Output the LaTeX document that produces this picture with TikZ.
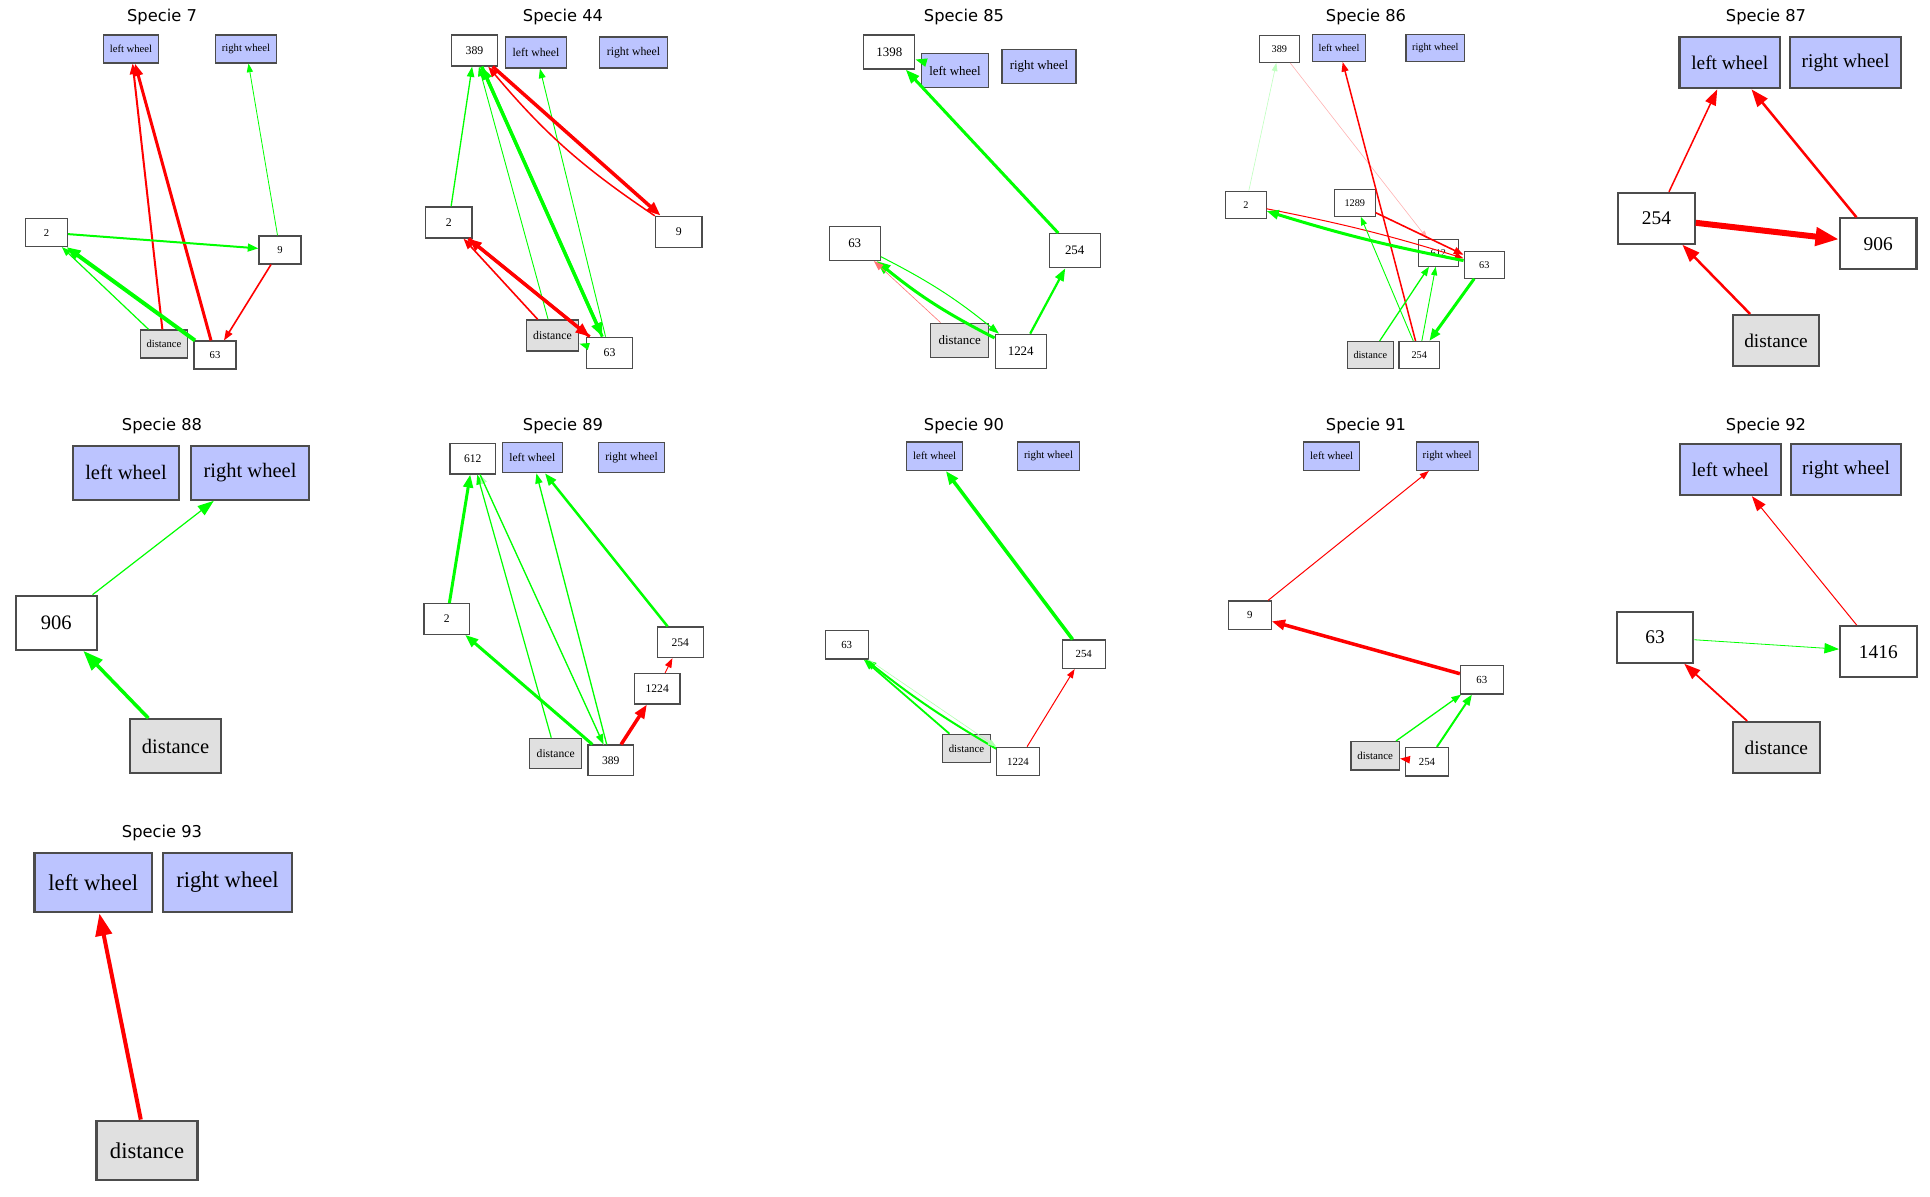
\documentclass[tikz,border=0pt]{standalone}
\usepackage{fontspec}
\setmainfont{Liberation Serif}
\newfontfamily\titlefont{DejaVu Sans}
\usetikzlibrary{arrows.meta}
\definecolor{wheel}{RGB}{188,196,255}
\definecolor{distc}{RGB}{224,224,224}
\definecolor{grn}{RGB}{0,255,0}
\definecolor{rd}{RGB}{255,0,0}
\tikzset{
  panel/.style={/utils/exec={\pgfmathsetlengthmacro\boxh{#1*0.5pt}%
      \pgfmathsetlengthmacro\bw{#1*0.02pt}\pgfmathsetmacro\fsz{#1*0.19}},
    >={Triangle[length=#1*0.13pt 1.7,width=#1*0.09pt 1.4]}},
  box/.style={draw=black!70,line width=\bw,inner sep=0pt,minimum height=\boxh,
    font=\fontsize{\fsz}{\fsz}\selectfont},
  num/.style={box,fill=white,minimum width=1.5*\boxh},
  lwheel/.style={box,fill=wheel,minimum width=1.97*\boxh},
  rwheel/.style={box,fill=wheel,minimum width=2.17*\boxh},
  dist/.style={box,fill=distc,minimum width=1.7*\boxh},
  title/.style={font=\titlefont\fontsize{8.15}{9}\selectfont},
  pw/.style={line width=#1*0.5pt}
}
\begin{document}
\begin{tikzpicture}[x=0.5pt,y=-0.5pt]
\useasboundingbox (0,0) rectangle (1930,1197);

\begin{scope}[panel=28]
\node[title] (t7) at (162,17) {Specie 7};
\node[lwheel] (s7L) at (131,49) {left wheel};
\node[rwheel] (s7R) at (246,49) {right wheel};
\node[num] (s7n2) at (46.5,232.5) {2};
\node[num] (s7n9) at (280,250) {9};
\node[dist] (s7D) at (164,344) {distance};
\node[num] (s7n63) at (215,355) {63};
\path[->] (s7D) edge[rd,pw=2] (s7L)
              edge[grn,pw=1.2] (s7n2)
          (s7n63) edge[rd,pw=3] (s7L)
              edge[grn,pw=4] (s7n2)
          (s7n9) edge[grn,pw=0.8] (s7R)
              edge[rd,pw=1.6] (s7n63)
          (s7n2) edge[grn,pw=2] (s7n9);
\end{scope}

\begin{scope}[panel=31]
\node[title] (t44) at (563,17) {Specie 44};
\node[num] (s44n389) at (474.5,50.5) {389};
\node[lwheel] (s44L) at (536,52.5) {left wheel};
\node[rwheel] (s44R) at (633.5,52.5) {right wheel};
\node[num] (s44n2) at (448.7,222.5) {2};
\node[num] (s44n9) at (678.7,231.7) {9};
\node[dist] (s44D) at (552.5,335.5) {distance};
\node[num] (s44n63) at (609.5,352.8) {63};
\path[->] (s44n2) edge[grn,pw=1.3] (s44n389)
              edge[rd,pw=3.5] (s44n63)
          (s44D) edge[grn,pw=0.9] (s44n389)
              edge[rd,pw=1.6] (s44n2)
          (s44n63) edge[grn,pw=3] (s44n389)
              edge[grn,pw=0.9] (s44L)
              edge[rd,pw=3] (s44n2)
              edge[grn,pw=1] (s44D)
          (s44n389) edge[grn,pw=3.5] (s44n63)
              edge[rd,pw=3.5] (s44n9)
          (s44n9) edge[rd,pw=1.5,bend left=8] (s44n389);
\end{scope}

\begin{scope}[panel=34]
\node[title] (t85) at (964,17) {Specie 85};
\node[num] (s85n1398) at (889.3,52) {1398};
\node[lwheel] (s85L) at (955,70.8) {left wheel};
\node[rwheel] (s85R) at (1039,66.7) {right wheel};
\node[num] (s85n63) at (854.7,243.3) {63};
\node[num] (s85n254) at (1074.7,250.7) {254};
\node[dist] (s85D) at (959.7,340.3) {distance};
\node[num] (s85n1224) at (1020.7,351.3) {1224};
\path[->] (s85L) edge[grn,pw=1.5] (s85n1398)
          (s85n254) edge[grn,pw=3] (s85n1398)
          (s85n1224) edge[grn,pw=2.2] (s85n254)
              edge[grn,pw=3,bend left=6] (s85n63)
          (s85n63) edge[grn,pw=1,bend left=6] (s85n1224)
          (s85D) edge[rd!55,pw=0.6] (s85n63);
\end{scope}

\begin{scope}[panel=27]
\node[title] (t86) at (1366,17) {Specie 86};
\node[num] (s86n389) at (1279.3,49) {389};
\node[lwheel] (s86L) at (1339,48) {left wheel};
\node[rwheel] (s86R) at (1435.3,48) {right wheel};
\node[num] (s86n2) at (1245.8,204.7) {2};
\node[num] (s86n1289) at (1354.8,202.7) {1289};
\node[num] (s86n612) at (1438.3,252.7) {612};
\node[num] (s86n63) at (1484.3,264.7) {63};
\node[dist] (s86D) at (1370.3,355) {distance};
\node[num] (s86n254) at (1419.2,355) {254};
\path[->] (s86n2) edge[grn!25,pw=0.6] (s86n389)
              edge[rd,pw=1,bend left=3] (s86n63)
          (s86n389) edge[rd!30,pw=0.6] (s86n612)
          (s86n254) edge[rd,pw=1.5] (s86L)
              edge[grn,pw=0.9] (s86n1289)
              edge[grn,pw=0.9] (s86n612)
          (s86n1289) edge[rd,pw=1.6] (s86n63)
          (s86n63) edge[grn,pw=3,bend left=3] (s86n2)
              edge[grn,pw=3] (s86n254)
          (s86D) edge[grn,pw=1.3] (s86n612);
\end{scope}

\begin{scope}[panel=51]
\node[title] (t87) at (1766,17) {Specie 87};
\node[lwheel] (s87L) at (1729.7,62.8) {left wheel};
\node[rwheel] (s87R) at (1845.5,62.8) {right wheel};
\node[num] (s87n254) at (1656.5,218.3) {254};
\node[num] (s87n906) at (1878.2,243.8) {906};
\node[dist] (s87D) at (1776,340.5) {distance};
\path[->] (s87n254) edge[rd,pw=1.5] (s87L)
              edge[rd,pw=6] (s87n906)
          (s87n906) edge[rd,pw=2.5] (s87L)
          (s87D) edge[rd,pw=2.5] (s87n254);
\end{scope}

\begin{scope}[panel=54]
\node[title] (t88) at (162,426) {Specie 88};
\node[lwheel] (s88L) at (126,472.8) {left wheel};
\node[rwheel] (s88R) at (250,472.8) {right wheel};
\node[num] (s88n906) at (56.2,622.8) {906};
\node[dist] (s88D) at (175.5,746.2) {distance};
\path[->] (s88n906) edge[grn,pw=1.2] (s88R)
          (s88D) edge[grn,pw=3.5] (s88n906);
\end{scope}

\begin{scope}[panel=30.5]
\node[title] (t89) at (563,426) {Specie 89};
\node[num] (s89n612) at (472.8,458.7) {612};
\node[lwheel] (s89L) at (532.3,457.5) {left wheel};
\node[rwheel] (s89R) at (631.5,457.5) {right wheel};
\node[num] (s89n2) at (446.8,619) {2};
\node[num] (s89n254) at (680.3,642.3) {254};
\node[num] (s89n1224) at (657.2,688.7) {1224};
\node[dist] (s89D) at (555.7,753.5) {distance};
\node[num] (s89n389) at (610.8,760.3) {389};
\path[->] (s89n2) edge[grn,pw=3] (s89n612)
          (s89D) edge[grn,pw=1.2] (s89n612)
          (s89n389) edge[grn!30,pw=0.8] (s89n612)
              edge[grn,pw=1.3] (s89L)
              edge[grn,pw=3] (s89n2)
              edge[rd,pw=3.5] (s89n1224)
          (s89n612) edge[grn,pw=1.3] (s89n389)
          (s89n254) edge[grn,pw=2.5] (s89L)
          (s89n1224) edge[rd,pw=0.9] (s89n254);
\end{scope}

\begin{scope}[panel=28.5]
\node[title] (t90) at (964,426) {Specie 90};
\node[lwheel] (s90L) at (934.7,456.2) {left wheel};
\node[rwheel] (s90R) at (1048.5,456.2) {right wheel};
\node[num] (s90n63) at (846.7,644.8) {63};
\node[num] (s90n254) at (1083.7,654.2) {254};
\node[dist] (s90D) at (966.5,748.5) {distance};
\node[num] (s90n1224) at (1018,761.5) {1224};
\path[->] (s90n254) edge[grn,pw=3.5] (s90L)
          (s90D) edge[grn,pw=1.8] (s90n63)
          (s90n1224) edge[grn,pw=2,bend left=4] (s90n63)
              edge[rd,pw=1] (s90n254)
          (s90n63) edge[grn!30,pw=0.6] (s90n1224);
\end{scope}

\begin{scope}[panel=28.5]
\node[title] (t91) at (1366,426) {Specie 91};
\node[lwheel] (s91L) at (1331.7,456.2) {left wheel};
\node[rwheel] (s91R) at (1447.2,456.2) {right wheel};
\node[num] (s91n9) at (1249.7,615.2) {9};
\node[num] (s91n63) at (1481.8,679.8) {63};
\node[dist] (s91D) at (1375.2,755.8) {distance};
\node[num] (s91n254) at (1427,761.7) {254};
\path[->] (s91n9) edge[rd,pw=1] (s91R)
          (s91n63) edge[rd,pw=3.5] (s91n9)
          (s91D) edge[grn,pw=1.3] (s91n63)
          (s91n254) edge[grn,pw=2] (s91n63)
              edge[rd,pw=1.5] (s91D);
\end{scope}

\begin{scope}[panel=51]
\node[title] (t92) at (1766,426) {Specie 92};
\node[lwheel] (s92L) at (1730.3,469.7) {left wheel};
\node[rwheel] (s92R) at (1846,469.7) {right wheel};
\node[num] (s92n63) at (1655,637.2) {63};
\node[num] (s92n1416) at (1878.3,651.7) {1416};
\node[dist] (s92D) at (1776.3,747.5) {distance};
\path[->] (s92n1416) edge[rd,pw=1] (s92L)
          (s92n63) edge[grn,pw=0.8] (s92n1416)
          (s92D) edge[rd,pw=1.8] (s92n63);
\end{scope}

\begin{scope}[panel=59.5]
\node[title] (t93) at (162,833) {Specie 93};
\node[lwheel] (s93L) at (93.2,882.5) {left wheel};
\node[rwheel] (s93R) at (227.5,882.5) {right wheel};
\node[dist] (s93D) at (147,1150.5) {distance};
\path[->] (s93D) edge[rd,pw=4] (s93L);
\end{scope}
\end{tikzpicture}
\end{document}
